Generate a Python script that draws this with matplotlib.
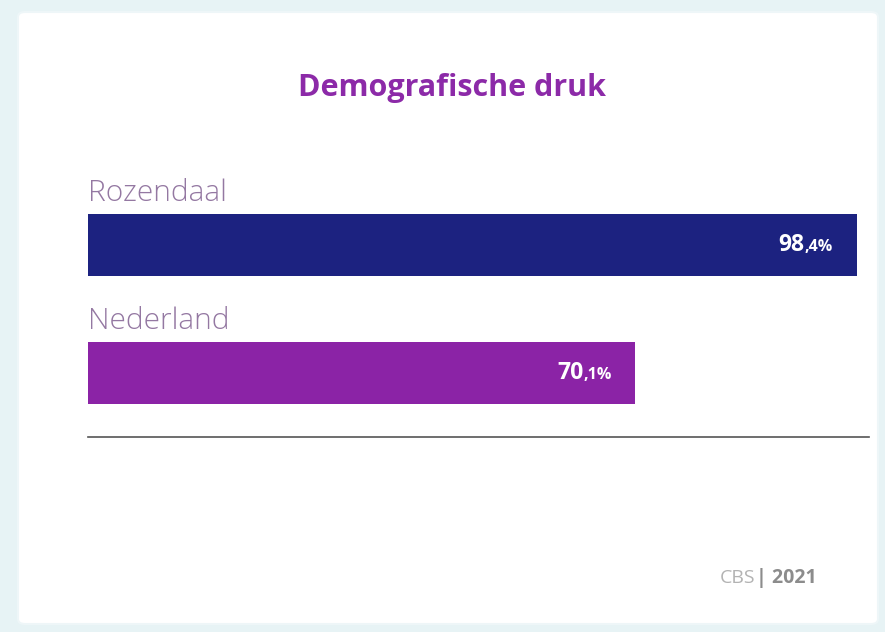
import matplotlib.pyplot as plt
from matplotlib.patches import FancyBboxPatch

# gegevens
regio = ['Rozendaal', 'Nederland']
druk = [98.4, 70.1]
kleuren = ['#1c2280', '#8b23a6']
titel = 'Demografische druk'
bron = 'CBS'
jaar = '2021'

W, H = 885, 632
fig = plt.figure(figsize=(W / 100, H / 100), dpi=100)
fig.patch.set_facecolor('#e7f3f5')

# witte kaart met afgeronde hoeken, achter de assen
kaart = FancyBboxPatch((18 / W, 8 / H), 860 / W, 612 / H,
                       boxstyle='round,pad=0,rounding_size=0.008',
                       transform=fig.transFigure, facecolor='white',
                       edgecolor='#eef6f8', linewidth=1.5, zorder=-5)
fig.patches.append(kaart)

fig.text(452 / W, 1 - 88 / H, titel, ha='center', va='center',
         fontsize=22, fontweight='bold', color='#8c2aa8', family='Open Sans')

# assen: van x=88 tot 869 px, y=181 tot 437 px
ax = fig.add_axes([88 / W, 1 - 437 / H, 781 / W, 256 / H])
ax.set_facecolor('none')
pos = list(range(len(regio)))
ax.barh(pos, druk, height=0.484, color=kleuren)
ax.set_xlim(0, 100)
ax.set_ylim(1.5, -0.5)
for s in ['top', 'right', 'left']:
    ax.spines[s].set_visible(False)
ax.spines['bottom'].set_color('#555555')
ax.spines['bottom'].set_linewidth(1.2)
ax.set_xticks([])
ax.set_yticks([])

for i, naam in enumerate(regio):
    ax.annotate(naam, (0, i - 0.242), xytext=(0, 4), textcoords='offset points',
                ha='left', va='bottom', fontsize=21.5, color='#9478a2',
                family='Open Sans', fontweight='light')

# waarde: hele getal groot, ",decimaal%" klein
fig.canvas.draw()
r = fig.canvas.get_renderer()
for i, v in enumerate(druk):
    heel, dec = f'{v:.1f}'.split('.')
    t2 = ax.annotate(',' + dec + '%', (v, i), xytext=(-17, -1.5), textcoords='offset points',
                     ha='right', va='center', fontsize=11.5, fontweight='bold',
                     color='white', family='Open Sans')
    w = t2.get_window_extent(r).width * 72 / fig.dpi
    ax.annotate(heel, (v, i), xytext=(-17 - w, 0), textcoords='offset points',
                ha='right', va='center', fontsize=16.5, fontweight='bold',
                color='white', family='Open Sans')

t = fig.text(720 / W, 1 - 578 / H, bron, ha='left', va='center',
             fontsize=14, color='#b3b3b3', family='Open Sans')
fig.canvas.draw()
bb = t.get_window_extent(r)
fig.text(bb.x1 / W, 1 - 578 / H, '| ' + jaar, ha='left', va='center',
         fontsize=14, fontweight='bold', color='#8c8c8c', family='Open Sans')

fig.savefig('out.png', dpi=100)
